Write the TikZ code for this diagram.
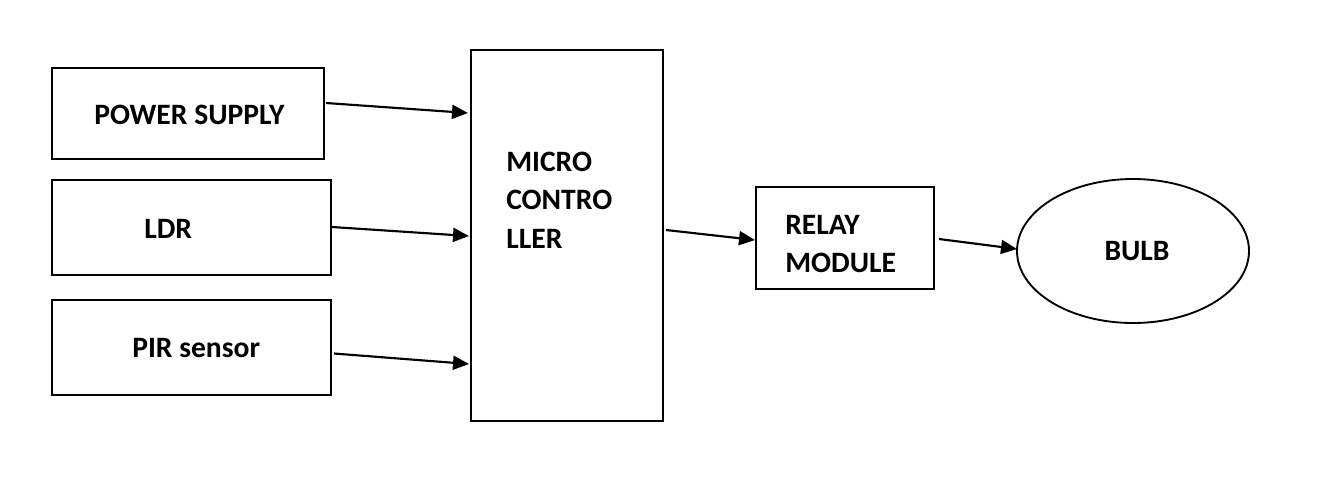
\documentclass[tikz,border=0pt]{standalone}
\usepackage{fontspec}
\setmainfont{Carlito}
\usetikzlibrary{calc,arrows.meta,shapes.geometric}
\begin{document}
\begin{tikzpicture}[x=0.75pt,y=-0.75pt,
  blk/.style={draw,line width=1.7pt,rectangle,inner sep=0pt,outer sep=0pt},
  oval/.style={draw,line width=1.4pt,ellipse,inner sep=0pt,outer sep=0pt},
  lbl/.style={font=\fontsize{22.2}{29}\selectfont\bfseries,inner sep=0pt,align=left},
  conn/.style={line width=1.6pt,-{Triangle[length=12pt,width=10.5pt]}}]
\useasboundingbox (0,0) rectangle (1321,476);
\fill[white] (0,0) rectangle (1321,476);
\node[blk,minimum width=204pt,minimum height=68.25pt] (ps) at (188,113.5) {};
\node[blk,minimum width=209.25pt,minimum height=71.25pt] (ldr) at (191.5,227.5) {};
\node[blk,minimum width=209.25pt,minimum height=71.25pt] (pir) at (191.5,347.5) {};
\node[blk,minimum width=144pt,minimum height=278.25pt] (mcu) at (567,235.5) {};
\node[blk,minimum width=133.5pt,minimum height=76.5pt] (relay) at (845,238) {};
\node[oval,minimum width=174pt,minimum height=108pt] (bulb) at (1133,251) {};
\node[lbl,anchor=west] (tps) at (94,115) {POWER SUPPLY};
\node[lbl,anchor=west] (tldr) at (144,229) {LDR};
\node[lbl,anchor=west] (tpir) at (132,348) {PIR sensor};
\node[lbl,anchor=west] (tmcu) at (506,200) {MICRO\\CONTRO\\LLER};
\node[lbl,anchor=west] (trel) at (785,244) {RELAY\\MODULE};
\node[lbl] (tbulb) at (1137,251) {BULB};
\draw[conn] ($(ps.east)+(2,-10.5)$) -- ($(mcu.west)+(-3,-122.5)$);
\draw[conn] ($(ldr.east)+(1,-0.5)$) -- ($(mcu.west)+(-2,0.5)$);
\draw[conn] ($(pir.east)+(3,6)$) -- ($(mcu.west)+(-2,128.5)$);
\draw[conn] ($(mcu.east)+(3,-5.5)$) -- ($(relay.west)+(-1,2)$);
\draw[conn] ($(relay.east)+(5,1)$) -- ($(bulb.west)+(0,-2)$);
\end{tikzpicture}
\end{document}
